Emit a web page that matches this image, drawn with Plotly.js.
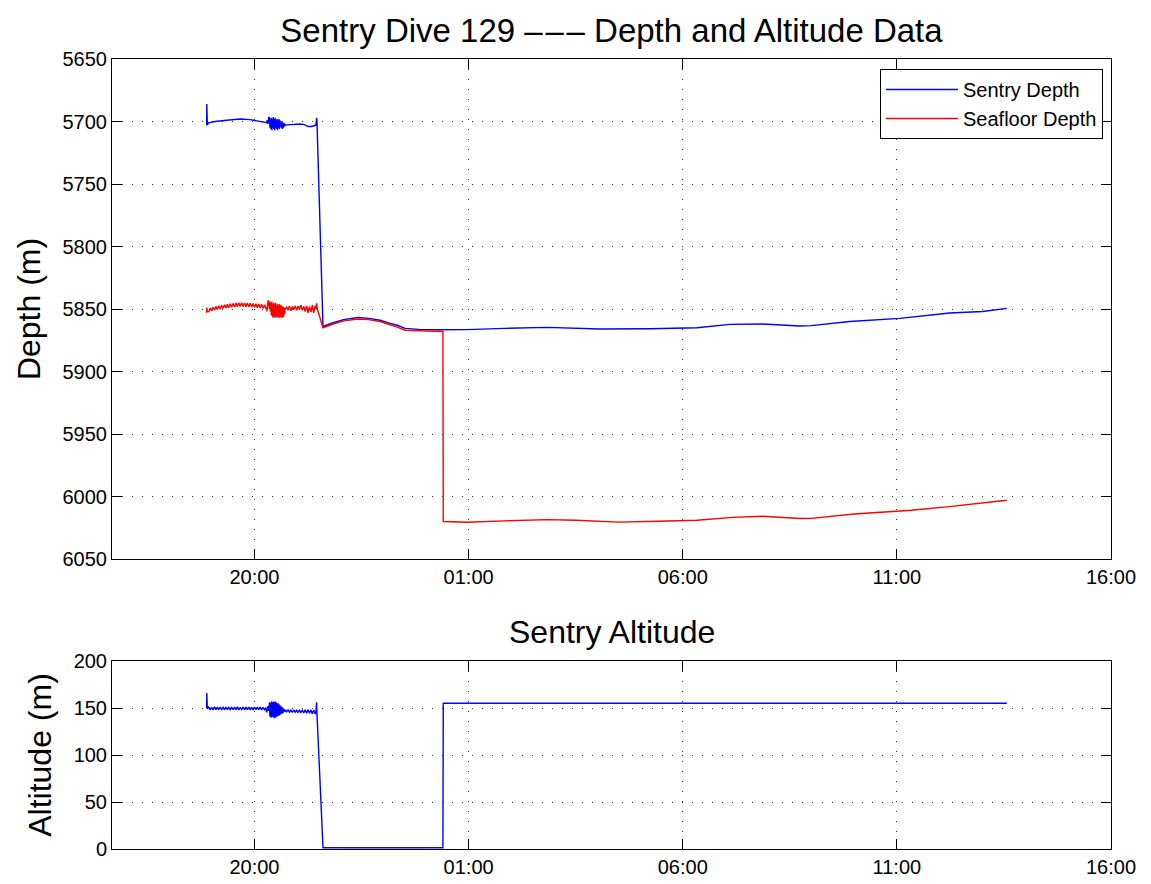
<!DOCTYPE html>
<html>
<head>
<meta charset="utf-8">
<script src="https://cdn.plot.ly/plotly-3.0.1.min.js"></script>
<style>html,body{margin:0;padding:0;background:#fff;}#chart{width:1151px;height:884px;}</style>
</head>
<body>
<div id="chart"></div>
<script>
// ---- Data (times are HH:MM:SS; hours before 16:00 belong to the next day) ----
const sentryTime = ['18:53:00','18:53:10','18:53:30','18:54:00','18:55:30','19:05:00','19:21:00','19:40:00','19:54:00','20:05:00','20:12:00','20:17:00','20:18:00','20:19:00','20:20:00',
 '20:21:00','20:21:40','20:22:20','20:23:00','20:23:40','20:24:20','20:25:00','20:25:40','20:26:20','20:27:00','20:27:40','20:28:20','20:29:00','20:29:40','20:30:20','20:31:00','20:31:40','20:32:20','20:33:00','20:33:40','20:34:20','20:35:00','20:35:40','20:36:20','20:37:00','20:37:40','20:38:20','20:39:00','20:39:40','20:40:20','20:41:00','20:41:40','20:42:20','20:43:00',
 '20:45:00','21:04:00','21:10:00','21:15:00','21:20:00','21:25:00','21:26:00','21:27:00','21:27:30','21:36:00','21:50:00','22:05:00','22:25:00','22:40:00','22:56:00','23:10:00','23:20:00','23:31:00','23:50:00',
 '00:20:00','00:58:00','01:50:00','02:50:00','04:04:00','05:14:00','06:20:00','07:06:00','07:52:00','08:44:00','09:00:00','09:54:00','11:04:00','12:14:00','13:00:00','13:34:00'];
const sentryDepth = [5703,5686,5688,5703,5701,5700,5699,5698,5698.5,5699.5,5700,5701,5699,5702,5696.5,
 5697,5705,5698,5706,5697,5707,5698,5705,5696.5,5706,5698,5707,5697,5705,5699,5706,5698,5707,5699,5705,5698,5706,5699,5704,5700,5705,5700,5706,5701,5705,5701,5704,5702,5703,
 5702.7,5702,5702.5,5704,5704,5703.5,5703,5697,5699,5864,5861,5858.5,5856.8,5857.5,5859,5861.5,5863,5865.5,5866.3,
 5866.6,5866.5,5865.5,5864.7,5866,5865.8,5865,5862.3,5862,5863.6,5863.3,5860,5857.5,5853.2,5852,5849.5];

const seafloorTime = ['18:53:00','18:53:20','18:54:00','18:56:00','18:58:00','19:00:00','19:02:00','19:04:00','19:06:00','19:08:00','19:10:00','19:12:00','19:14:00','19:16:00','19:18:00','19:20:00','19:22:00','19:24:00','19:26:00','19:28:00','19:30:00','19:32:00','19:34:00','19:36:00','19:38:00','19:40:00','19:42:00','19:44:00','19:46:00','19:48:00','19:50:00','19:52:00','19:54:00','19:56:00','19:58:00','20:00:00','20:02:00','20:04:00','20:06:00','20:08:00','20:10:00','20:12:00','20:14:00','20:16:00','20:17:00','20:17:30','20:18:00','20:19:00','20:20:00',
 '20:21:00','20:21:40','20:22:20','20:23:00','20:23:40','20:24:20','20:25:00','20:25:40','20:26:20','20:27:00','20:27:40','20:28:20','20:29:00','20:29:40','20:30:20','20:31:00','20:31:40','20:32:20','20:33:00','20:33:40','20:34:20','20:35:00','20:35:40','20:36:20','20:37:00','20:37:40','20:38:20','20:39:00','20:39:40','20:40:20','20:41:00','20:41:40','20:42:20','20:43:00',
 '20:45:00','20:47:00','20:49:00','20:51:00','20:53:00','20:55:00','20:57:00','20:59:00','21:01:00','21:03:00','21:05:00','21:07:00','21:09:00','21:11:00','21:13:00','21:15:00','21:17:00','21:19:00','21:21:00','21:23:00','21:25:00','21:26:00','21:27:00','21:28:00','21:36:00',
 '21:50:00','22:05:00','22:25:00','22:40:00','22:56:00','23:10:00','23:20:00','23:31:00','23:50:00','00:20:00','00:24:00','00:24:30','00:58:00','01:50:00','02:50:00','03:30:00','04:30:00','05:25:00','06:20:00','07:10:00','07:52:00','08:44:00','09:00:00','10:00:00','11:20:00','12:10:00','13:00:00','13:34:00'];
const seafloorDepth = [5853,5849,5852,5852.2,5849.2,5851.5,5848.4,5851,5847.9,5850.5,5847.4,5850,5847,5849.6,5846.6,5849.3,5846.2,5849,5845.8,5848.6,5845.5,5848.4,5845.2,5848.2,5845,5848,5845,5848.1,5845.1,5848.2,5845.2,5848.3,5845.4,5848.5,5845.6,5848.7,5845.8,5849,5846,5849.2,5846.3,5849.5,5846.6,5849.8,5848.3,5852,5849,5843,5845,
 5850,5844,5852,5845,5855,5844,5856,5846,5857,5845,5856,5846,5857,5845,5856,5847,5857,5846,5856,5847,5857,5846,5857,5847,5856,5847,5857,5848,5857,5848,5856,5849,5854,5850,
 5848.5,5851,5847.5,5851.5,5848,5850.5,5847.5,5851,5847.5,5850.5,5847,5851,5848,5852,5847.5,5853,5848,5852.5,5847,5853,5847.5,5850,5845.5,5850,5865,
 5862,5859.5,5858,5858.5,5860,5862.5,5864.5,5867,5867.5,5868,5868,6020,6020.6,6019.5,6018.5,6019,6020.5,6019.8,6019,6016.7,6015.8,6017.6,6017.5,6014,6011,6008.3,6005,6003];

const altTime = ['18:53:00','18:53:10','18:53:40','18:54:00','18:56:00','18:58:00','19:00:00','19:02:00','19:04:00','19:06:00','19:08:00','19:10:00','19:12:00','19:14:00','19:16:00','19:18:00','19:20:00','19:22:00','19:24:00','19:26:00','19:28:00','19:30:00','19:32:00','19:34:00','19:36:00','19:38:00','19:40:00','19:42:00','19:44:00','19:46:00','19:48:00','19:50:00','19:52:00','19:54:00','19:56:00','19:58:00','20:00:00','20:02:00','20:04:00','20:06:00','20:08:00','20:10:00','20:12:00','20:14:00','20:16:00','20:17:00','20:18:00','20:19:00','20:20:00',
 '20:21:00','20:21:40','20:22:20','20:23:00','20:23:40','20:24:20','20:25:00','20:25:40','20:26:20','20:27:00','20:27:40','20:28:20','20:29:00','20:29:40','20:30:20','20:31:00','20:31:40','20:32:20','20:33:00','20:33:40','20:34:20','20:35:00','20:35:40','20:36:20','20:37:00','20:37:40','20:38:20','20:39:00','20:39:40','20:40:20','20:41:00','20:42:00','20:43:00',
 '20:45:00','20:47:00','20:49:00','20:51:00','20:53:00','20:55:00','20:57:00','20:59:00','21:01:00','21:03:00','21:05:00','21:07:00','21:09:00','21:11:00','21:13:00','21:15:00','21:17:00','21:19:00','21:21:00','21:23:00','21:25:00','21:26:00','21:27:00','21:27:30','21:36:00','00:24:00','00:24:30','13:34:00'];
const altitude = [150,166,163,149,151,148.2,150.8,148,151.2,148.3,150.9,148.1,151,148.4,150.7,148,151.1,148.2,150.8,148.3,151,148.1,150.9,148.2,151.2,148,150.8,148.3,151,148.1,150.9,148.2,151.1,148,150.8,148.3,151,148.1,150.9,148.2,151,148,150.8,148.3,150.5,145.4,148,152,147,
 156,141,155,140,157,140,156,141,157,140,156,139,157,140,156,141,155,141,155,142,154,142,153,143,152,144,151,144,150,145,149,146,148,
 146,148,145.5,147.8,145.2,148,145.5,147.5,145,148,145.3,147.6,144.8,148,144.5,148.2,144.5,147.8,144,148,143.5,145,156,145,1.4,1.4,155,155];

const depthTicks = [5650,5700,5750,5800,5850,5900,5950,6000,6050];
const altTicks = [0,50,100,150,200];

function toDate(t){ const h = parseInt(t.slice(0,2),10); return (h < 16 ? '2010-01-02 ' : '2010-01-01 ') + t; }

const FONT = 'Liberation Sans, Arial, Helvetica, sans-serif';
const W = 1151, H = 884;
const xDom = [112/W, 1111/W];
const y1Dom = [1-559/H, 1-59/H];
const y2Dom = [1-849/H, 1-661/H];

const traces = [
 {x: sentryTime.map(toDate), y: sentryDepth, type:'scatter', mode:'lines', name:'Sentry Depth', line:{color:'#0000ff', width:1.4}, xaxis:'x', yaxis:'y'},
 {x: seafloorTime.map(toDate), y: seafloorDepth, type:'scatter', mode:'lines', name:'Seafloor Depth', line:{color:'#ff0000', width:1.4}, xaxis:'x', yaxis:'y'},
 {x: altTime.map(toDate), y: altitude, type:'scatter', mode:'lines', name:'Sentry Altitude', line:{color:'#0000ff', width:1.4}, xaxis:'x2', yaxis:'y2', showlegend:false}
];

const xCommon = {
 type:'date', range:['2010-01-01 16:40:23','2010-01-02 16:00:00'],
 tick0:'2010-01-01 20:00:00', dtick:18000000, tickformat:'%H:%M',
 showline:true, linecolor:'#000', linewidth:1, mirror:'ticks',
 ticks:'inside', ticklen:10, tickcolor:'#000',
 showgrid:true, gridcolor:'#333', gridwidth:1, griddash:'1px,9px',
 zeroline:false, tickfont:{family:FONT, size:20, color:'#000'}, domain:xDom
};
const yCommon = {
 showline:true, linecolor:'#000', linewidth:1, mirror:'ticks',
 ticks:'inside', ticklen:10, tickcolor:'#000',
 showgrid:true, gridcolor:'#333', gridwidth:1, griddash:'1px,9px',
 zeroline:false, tickfont:{family:FONT, size:20, color:'#000'}, tickmode:'array'
};

const layout = {
 width:W, height:H, margin:{l:0,r:0,t:0,b:0},
 paper_bgcolor:'#fff', plot_bgcolor:'#fff',
 font:{family:FONT, color:'#000'},
 showlegend:true,
 legend:{x:1103/W, y:1-69/H, xanchor:'right', yanchor:'top', bgcolor:'#fff', bordercolor:'#000', borderwidth:1,
   font:{family:FONT, size:20, color:'#000'}, itemwidth:72, tracegroupgap:0},
 title:{text:'Sentry Dive 129 \u2013\u200A\u2013\u200A\u2013 Depth and Altitude Data', x:611.5/W, xanchor:'center', y:1-30/H, yanchor:'middle', font:{family:FONT, size:33, color:'#000'}},
 xaxis: Object.assign({}, xCommon, {anchor:'y'}),
 yaxis: Object.assign({}, yCommon, {domain:y1Dom, anchor:'x', range:[6050,5650], tickvals:depthTicks,
   title:{text:'Depth (m)', font:{family:FONT, size:32, color:'#000'}, standoff:12}}),
 xaxis2: Object.assign({}, xCommon, {anchor:'y2'}),
 yaxis2: Object.assign({}, yCommon, {domain:y2Dom, anchor:'x2', range:[0,200], tickvals:altTicks,
   title:{text:'Altitude (m)', font:{family:FONT, size:32, color:'#000'}, standoff:12}}),
 annotations:[
  {text:'Sentry Altitude', xref:'paper', yref:'paper', x:611.5/W, y:1-632/H, xanchor:'center', yanchor:'middle', showarrow:false, font:{family:FONT, size:32, color:'#000'}}
 ]
};

Plotly.newPlot('chart', traces, layout, {displayModeBar:false, staticPlot:true});
</script>
</body>
</html>
